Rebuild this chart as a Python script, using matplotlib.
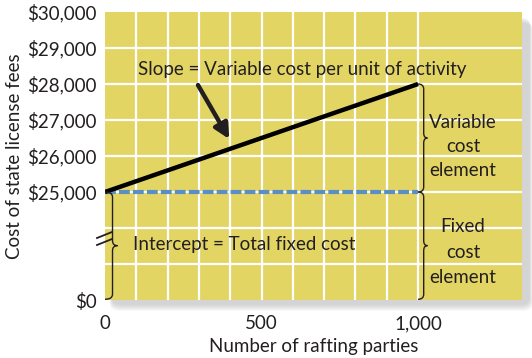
import matplotlib
matplotlib.use("Agg")
import matplotlib.pyplot as plt
import numpy as np
from matplotlib.path import Path
from matplotlib.patches import PathPatch, FancyBboxPatch

# data
parties = [0, 1000]
fees = [25000, 28000]
fixed_cost = 25000
ytick_values = [0, 25000, 26000, 27000, 28000, 29000, 30000]
ytick_labels = ["$0", "$25,000", "$26,000", "$27,000", "$28,000", "$29,000", "$30,000"]
xtick_values = [0, 500, 1000]
xtick_labels = ["0", "500", "1,000"]

plt.rcParams['font.family'] = ['Lato', 'DejaVu Sans']
TXT = "#231f20"
PANEL = "#e3d564"
FS = 13.5


def to_axis(v):
    # broken y axis: $0-$25,000 squeezed into 3 grid rows, then 1 row per $1,000
    v = np.asarray(v, dtype=float)
    return np.where(v <= 25000, v / 25000 * 3, 3 + (v - 25000) / 1000)


def brace(ax, x, y0, y1, w, h=0.14):
    # right pointing curly brace from y0 (bottom) to y1 (top)
    xm = x + w * 0.6
    ym = (y0 + y1) / 2
    verts = [(x, y1), (xm, y1), (xm, y1 - h),
             (xm, ym + h), (xm, ym), (x + w, ym),
             (xm, ym), (xm, ym - h),
             (xm, y0 + h), (xm, y0), (x, y0)]
    codes = [Path.MOVETO, Path.CURVE3, Path.CURVE3,
             Path.LINETO, Path.CURVE3, Path.CURVE3,
             Path.CURVE3, Path.CURVE3,
             Path.LINETO, Path.CURVE3, Path.CURVE3]
    ax.add_patch(PathPatch(Path(verts, codes), fill=False, lw=1.0, color=TXT, clip_on=False, zorder=5))


fig = plt.figure(figsize=(5.32, 3.58), dpi=100)
W, H = 532, 358
L, R, T, B = 105, 522, 12, 300
ax = fig.add_axes([L / W, 1 - B / H, (R - L) / W, (B - T) / H])
ax.set_zorder(2)

# soft drop shadow behind the panel
for i in range(7):
    g = 7 - i
    fig.patches.append(FancyBboxPatch(((L + 5 + i * 0.3) / W, 1 - (B + 4 + g) / H),
                                      (R - L + g * 0.8) / W, (B - T) / H,
                                      boxstyle="round,pad=0,rounding_size=0.02",
                                      transform=fig.transFigure, fc="#8a8a8a", ec="none",
                                      alpha=0.06, zorder=0))

ax.set_facecolor(PANEL)
ax.set_xlim(0, 1332)
ax.set_ylim(0, 8)
for s in ax.spines.values():
    s.set_visible(False)

# grid
for y in range(1, 8):
    ax.axhline(y, color="white", lw=1.6, zorder=1)
for x in range(100, 1001, 100):
    ax.axvline(x, color="white", lw=1.6, zorder=1)

ax.plot(parties, [to_axis(fixed_cost)] * 2, color="#5a8fc6", lw=3.0, dashes=(2.6, 0.75), zorder=3)
ax.plot(parties, to_axis(fees), color="black", lw=3.2, solid_capstyle="butt", zorder=4)

ax.set_yticks(to_axis(ytick_values))
ax.set_yticklabels(ytick_labels)
ax.set_xticks(xtick_values)
ax.set_xticklabels(xtick_labels)
ax.tick_params(length=0, labelsize=FS, colors=TXT, pad=6)
ax.tick_params(axis="x", pad=11)
ax.set_xlabel("Number of rafting parties", fontsize=FS, color=TXT, labelpad=4)
ax.set_ylabel("Cost of state license fees", fontsize=FS, color=TXT, labelpad=3)

ax.text(629, 6.39, "Slope = Variable cost per unit of activity", fontsize=FS, color=TXT,
        ha="center", va="center", zorder=6)
ax.annotate("", xy=(397, to_axis(26190) + 0.28), xytext=(297, 5.97),
            arrowprops=dict(arrowstyle="-|>,head_length=0.9,head_width=0.45", lw=3.2,
                            color=TXT, shrinkA=0, shrinkB=0), zorder=6)
ax.text(89, 1.53, "Intercept = Total fixed cost", fontsize=FS, color=TXT, va="center")
ax.text(1144, 4.25, "Variable\ncost\nelement", fontsize=FS, color=TXT, ha="center",
        va="center", linespacing=1.5)
ax.text(1144, 1.33, "Fixed\ncost\nelement", fontsize=FS, color=TXT, ha="center",
        va="center", linespacing=1.58)

brace(ax, 0, 0.02, 3, 40)
brace(ax, 1000, 3, 6, 30)
brace(ax, 1000, 0.02, 3, 30)

# axis break marks
for dy in (0, 7):
    fig.add_artist(plt.Line2D([97 / W, 112 / W], [1 - (238 + dy) / H, 1 - (232 + dy) / H],
                              color=TXT, lw=1.3, zorder=5))

fig.savefig("out.png", dpi=100)
